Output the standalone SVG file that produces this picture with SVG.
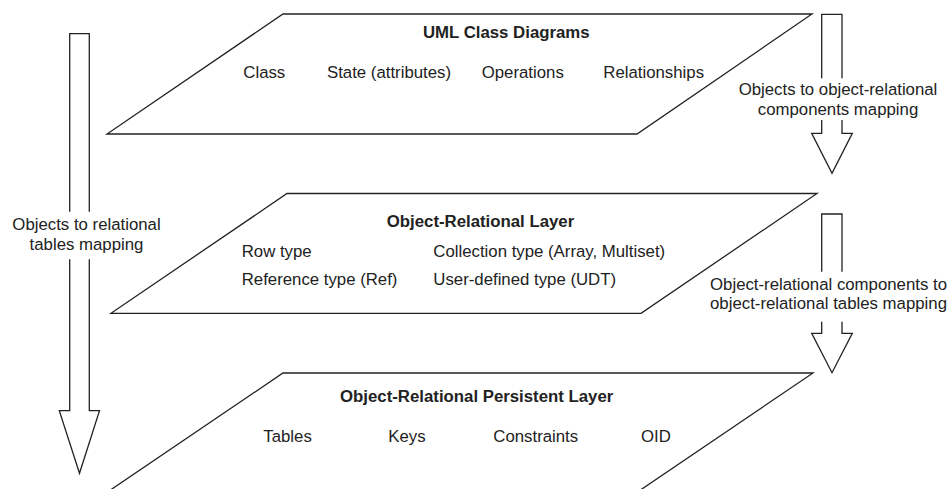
<svg xmlns="http://www.w3.org/2000/svg" width="950" height="489" viewBox="0 0 950 489">
<style>
.shape{fill:#ffffff;stroke:#222222;stroke-width:1.3;stroke-linejoin:miter}
.arrow{fill:none;stroke:#222222;stroke-width:1.3;stroke-linejoin:miter}
text{font-family:"Liberation Sans",Arial,sans-serif;font-size:16.8px;fill:#222222}
.title{font-weight:bold;text-anchor:middle}
.lbl{text-anchor:middle}
</style>
<rect width="950" height="489" fill="#ffffff"/>
<g id="uml-class-diagrams">
<polygon class="shape" points="283,14 812,14 637,134 107,134"/>
<text class="title" x="506.3" y="38.3">UML Class Diagrams</text>
<text x="243.3" y="78.3">Class</text>
<text x="327" y="78.3">State (attributes)</text>
<text x="481.7" y="78.3">Operations</text>
<text x="603.3" y="78.3">Relationships</text>
</g>
<g id="object-relational-layer">
<polygon class="shape" points="287,193.5 817,193.5 641,313.3 111,313.3"/>
<text class="title" x="480.5" y="227.3">Object-Relational Layer</text>
<text x="241.7" y="256.7">Row type</text>
<text x="433.3" y="256.7">Collection type (Array, Multiset)</text>
<text x="241.7" y="285">Reference type (Ref)</text>
<text x="433.3" y="285">User-defined type (UDT)</text>
</g>
<g id="object-relational-persistent-layer">
<polygon class="shape" points="283,373 813,373 636,493 106,493"/>
<text class="title" x="476.7" y="401.7">Object-Relational Persistent Layer</text>
<text x="263.3" y="441.7">Tables</text>
<text x="388.3" y="441.7">Keys</text>
<text x="493.3" y="441.7">Constraints</text>
<text x="641" y="441.7">OID</text>
</g>
<g id="connectors">
<g id="arrow-objects-to-relational">
<path class="arrow" d="M69.7,211.7 V33.7 H89.3 V211.7 M69.7,259.3 V410.7 H59.3 L79.5,473.3 L99.5,410.7 H89.3 V259.3"/>
<text class="lbl" x="86.5" y="230">Objects to relational</text>
<text class="lbl" x="86.5" y="250">tables mapping</text>
</g>
<g id="arrow-objects-to-or-components">
<path class="arrow" d="M821.7,78.3 V14.3 H842 V78.3 M821.7,120 V133.3 H811.7 L832,173.3 L852.3,133.3 H842 V120"/>
<text class="lbl" x="838" y="95">Objects to object-relational</text>
<text class="lbl" x="838" y="115">components mapping</text>
</g>
<g id="arrow-or-components-to-tables">
<path class="arrow" d="M821.7,271.7 V214 H842 V271.7 M821.7,321.7 V333.3 H811.7 L832,372.7 L852.3,333.3 H842 V321.7"/>
<text class="lbl" x="828.5" y="290">Object-relational components to</text>
<text class="lbl" x="828.5" y="309.3">object-relational tables mapping</text>
</g>
</g>
</svg>
